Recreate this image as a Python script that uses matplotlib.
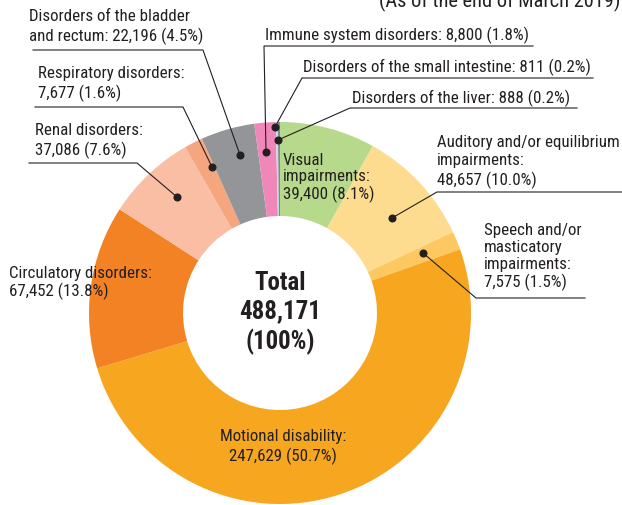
# donut chart: certified persons by type of disability
import numpy as np
import matplotlib.pyplot as plt
from matplotlib import font_manager

# data
labels = ['Visual impairments', 'Auditory and/or equilibrium impairments',
          'Speech and/or masticatory impairments', 'Motional disability',
          'Circulatory disorders', 'Renal disorders', 'Respiratory disorders',
          'Disorders of the bladder and rectum', 'Immune system disorders',
          'Disorders of the small intestine', 'Disorders of the liver']
counts = [39400, 48657, 7575, 247629, 67452, 37086, 7677, 22196, 8800, 811, 888]
shares = [8.1, 10.0, 1.5, 50.7, 13.8, 7.6, 1.6, 4.5, 1.8, 0.2, 0.2]
total = 488171
colors = ['#b6d98b', '#fedc8f', '#fdc762', '#f7a61f', '#f28224', '#f9bea4',
          '#f5a67f', '#939598', '#ef87b8', '#bde1f3', '#808a94']

# look for a narrow face, else fall back to a smaller normal one
fams = {}
for f in font_manager.fontManager.ttflist:
    fams.setdefault(f.name, set()).add(str(f.stretch))
font, stretch, fs = None, 'normal', 12.2
for name in ['Liberation Sans Narrow', 'Arial Narrow', 'Roboto Condensed',
             'Open Sans Condensed', 'Noto Sans Condensed']:
    if name in fams:
        font = name
        break
if font is None:
    for name in ['Roboto', 'Noto Sans', 'Open Sans', 'DejaVu Sans']:
        st = fams.get(name, set())
        if 'condensed' in st or '75' in st or 'semi-condensed' in st or '87' in st:
            font = name
            stretch = 'condensed' if ('condensed' in st or '75' in st) else 'semi-condensed'
            break
if font is None:
    font, fs = 'Liberation Sans', 10.6
plt.rcParams['font.family'] = [font, 'DejaVu Sans']
plt.rcParams['font.stretch'] = stretch
txt = '#231f20'

W, H = 622, 506
fig = plt.figure(figsize=(W/100, H/100), dpi=100)
ax = fig.add_axes([0, 0, 1, 1])
ax.set_xlim(0, W)
ax.set_ylim(0, H)
ax.set_aspect('equal')
ax.axis('off')

def py(y):
    # pixel row (from top) to data y
    return H - y

cx, cy, R, r = 280, 314, 191, 97
wedges, _ = ax.pie(counts, colors=colors, startangle=90, counterclock=False,
                   radius=R, center=(cx, py(cy)),
                   wedgeprops=dict(width=R - r, linewidth=0))
ax.set_xlim(0, W)
ax.set_ylim(0, H)

# centre text
ax.text(cx, py(cy - 1), 'Total\n%s\n(100%%)' % format(total, ','), ha='center',
        va='center', fontsize=fs * 1.47, fontweight='bold', color=txt, linespacing=1.22)

def lab(i, name):
    return '%s:\n%s (%.1f%%)' % (name, format(counts[i], ','), shares[i])

# labels without leaders
ax.text(283, py(178), 'Visual\nimpairments:\n%s (%.1f%%)' % (format(counts[0], ','), shares[0]),
        ha='left', va='center', fontsize=fs, color=txt, linespacing=1.14)
ax.text(9, py(283), lab(4, 'Circulatory disorders'), ha='left', va='center',
        fontsize=fs, color=txt, linespacing=1.2)
ax.text(283, py(447), lab(3, 'Motional disability'), ha='center', va='center',
        fontsize=fs, color=txt, linespacing=1.32)

# labels with leaders: text, x, y, spacing, underline y, x0, x1, corner x, dot
leaders = [
    ('Disorders of the bladder\nand rectum: %s (%.1f%%)' % (format(counts[7], ','), shares[7]),
     29, 27, 1.28, 51, 33, 203, 203, (240, 156)),
    (lab(6, 'Respiratory disorders'), 38, 84, 1.25, 108, 35, 183, 183, (212, 168)),
    (lab(5, 'Renal disorders'), 35, 141, 1.25, 164, 29, 137, 137, (177, 198)),
    ('Immune system disorders: %s (%.1f%%)' % (format(counts[8], ','), shares[8]),
     265, 35, 1.2, 47, 264, 533, 264, (266, 153)),
    ('Disorders of the small intestine: %s (%.1f%%)' % (format(counts[9], ','), shares[9]),
     303, 67, 1.2, 79, 302, 593, 302, (275, 128)),
    ('Disorders of the liver: %s (%.1f%%)' % (format(counts[10], ','), shares[10]),
     352, 98, 1.2, 109, 350, 577, 350, (278, 141)),
    ('Auditory and/or equilibrium\nimpairments:\n%s (%.1f%%)' % (format(counts[1], ','), shares[1]),
     437, 162, 1.3, 193, 437, 622, 437, (392, 219)),
    ('Speech and/or\nmasticatory\nimpairments:\n%s (%.1f%%)' % (format(counts[2], ','), shares[2]),
     484, 257, 1.14, 299, 476, 585, 476, (423, 254)),
]
for s, tx, ty, ls, uy, x0, x1, xc, dot in leaders:
    ax.text(tx, py(ty), s, ha='left', va='center', fontsize=fs, color=txt,
            linespacing=ls)
    xf = x1 if xc == x0 else x0
    ax.plot([xf, xc, dot[0]], [py(uy), py(uy), py(dot[1])], color='#231f20', lw=0.8,
            solid_joinstyle='miter')
    ax.plot(dot[0], py(dot[1]), 'o', color='#231f20', ms=4.8)

ax.text(620, py(7), '(As of the end of March 2019)', ha='right', va='baseline',
        fontsize=fs * 1.2, color=txt)

plt.savefig('out.png', dpi=100)
